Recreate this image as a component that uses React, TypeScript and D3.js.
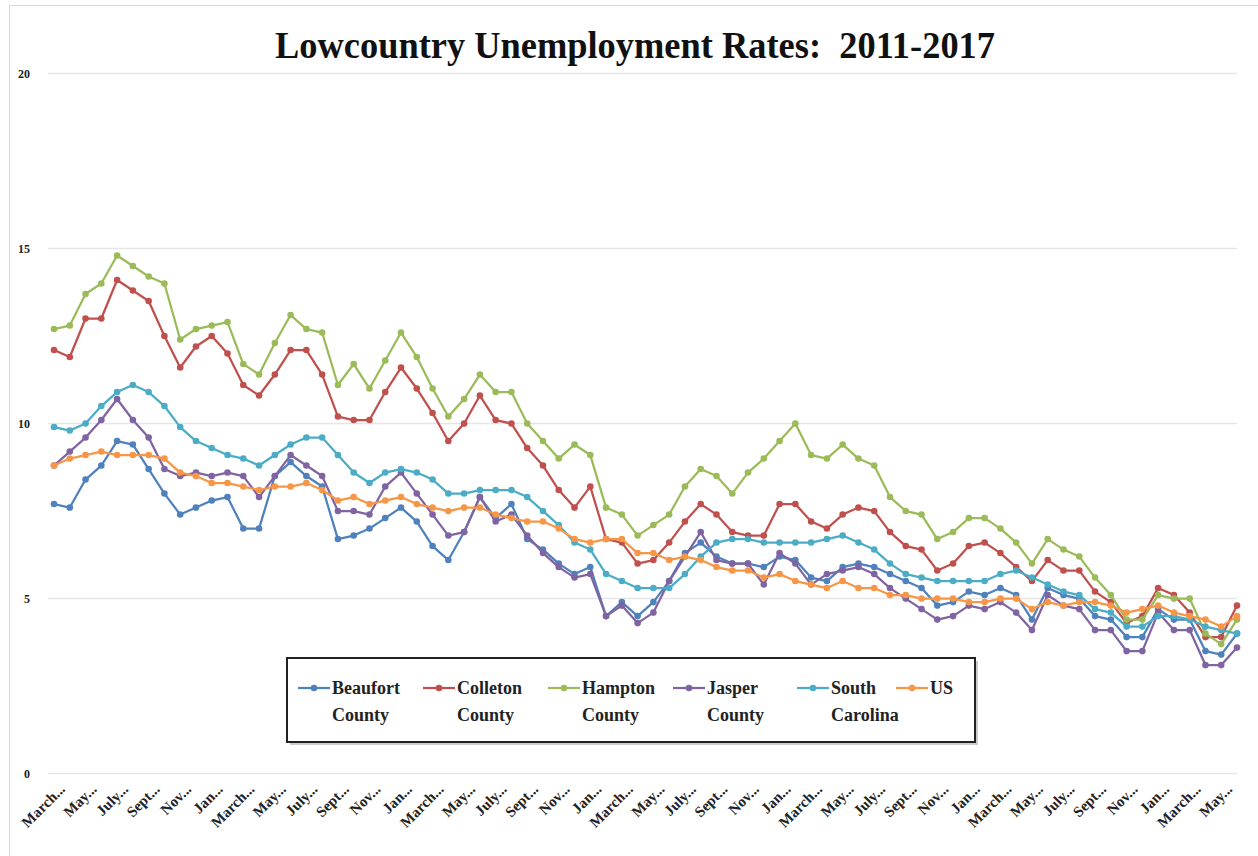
import React from "react";
import * as d3 from "d3";

const categories = [
  "March 2011","April 2011","May 2011","June 2011","July 2011","Aug 2011","Sept 2011","Oct 2011","Nov 2011","Dec 2011",
  "Jan 2012","Feb 2012","March 2012","April 2012","May 2012","June 2012","July 2012","Aug 2012","Sept 2012","Oct 2012","Nov 2012","Dec 2012",
  "Jan 2013","Feb 2013","March 2013","April 2013","May 2013","June 2013","July 2013","Aug 2013","Sept 2013","Oct 2013","Nov 2013","Dec 2013",
  "Jan 2014","Feb 2014","March 2014","April 2014","May 2014","June 2014","July 2014","Aug 2014","Sept 2014","Oct 2014","Nov 2014","Dec 2014",
  "Jan 2015","Feb 2015","March 2015","April 2015","May 2015","June 2015","July 2015","Aug 2015","Sept 2015","Oct 2015","Nov 2015","Dec 2015",
  "Jan 2016","Feb 2016","March 2016","April 2016","May 2016","June 2016","July 2016","Aug 2016","Sept 2016","Oct 2016","Nov 2016","Dec 2016",
  "Jan 2017","Feb 2017","March 2017","April 2017","May 2017","June 2017",
];

const beaufort = [
  7.7, 7.6, 8.4, 8.8, 9.5, 9.4, 8.7, 8.0, 7.4, 7.6, 7.8, 7.9,
  7.0, 7.0, 8.5, 8.9, 8.5, 8.2, 6.7, 6.8, 7.0, 7.3, 7.6, 7.2,
  6.5, 6.1, 6.9, 7.9, 7.3, 7.7, 6.7, 6.4, 6.0, 5.7, 5.9, 4.5,
  4.9, 4.5, 4.9, 5.5, 6.3, 6.6, 6.2, 6.0, 6.0, 5.9, 6.2, 6.1,
  5.6, 5.5, 5.9, 6.0, 5.9, 5.7, 5.5, 5.3, 4.8, 4.9, 5.2, 5.1,
  5.3, 5.1, 4.4, 5.3, 5.1, 5.0, 4.5, 4.4, 3.9, 3.9, 4.7, 4.4,
  4.4, 3.5, 3.4, 4.0,
];
const colleton = [
  12.1, 11.9, 13.0, 13.0, 14.1, 13.8, 13.5, 12.5, 11.6, 12.2, 12.5, 12.0,
  11.1, 10.8, 11.4, 12.1, 12.1, 11.4, 10.2, 10.1, 10.1, 10.9, 11.6, 11.0,
  10.3, 9.5, 10.0, 10.8, 10.1, 10.0, 9.3, 8.8, 8.1, 7.6, 8.2, 6.7,
  6.6, 6.0, 6.1, 6.6, 7.2, 7.7, 7.4, 6.9, 6.8, 6.8, 7.7, 7.7,
  7.2, 7.0, 7.4, 7.6, 7.5, 6.9, 6.5, 6.4, 5.8, 6.0, 6.5, 6.6,
  6.3, 5.9, 5.5, 6.1, 5.8, 5.8, 5.2, 4.9, 4.3, 4.5, 5.3, 5.1,
  4.6, 3.9, 3.9, 4.8,
];
const hampton = [
  12.7, 12.8, 13.7, 14.0, 14.8, 14.5, 14.2, 14.0, 12.4, 12.7, 12.8, 12.9,
  11.7, 11.4, 12.3, 13.1, 12.7, 12.6, 11.1, 11.7, 11.0, 11.8, 12.6, 11.9,
  11.0, 10.2, 10.7, 11.4, 10.9, 10.9, 10.0, 9.5, 9.0, 9.4, 9.1, 7.6,
  7.4, 6.8, 7.1, 7.4, 8.2, 8.7, 8.5, 8.0, 8.6, 9.0, 9.5, 10.0,
  9.1, 9.0, 9.4, 9.0, 8.8, 7.9, 7.5, 7.4, 6.7, 6.9, 7.3, 7.3,
  7.0, 6.6, 6.0, 6.7, 6.4, 6.2, 5.6, 5.1, 4.4, 4.4, 5.1, 5.0,
  5.0, 4.0, 3.7, 4.4,
];
const jasper = [
  8.8, 9.2, 9.6, 10.1, 10.7, 10.1, 9.6, 8.7, 8.5, 8.6, 8.5, 8.6,
  8.5, 7.9, 8.5, 9.1, 8.8, 8.5, 7.5, 7.5, 7.4, 8.2, 8.6, 8.0,
  7.4, 6.8, 6.9, 7.9, 7.2, 7.4, 6.8, 6.3, 5.9, 5.6, 5.7, 4.5,
  4.8, 4.3, 4.6, 5.5, 6.2, 6.9, 6.1, 6.0, 6.0, 5.4, 6.3, 6.0,
  5.4, 5.7, 5.8, 5.9, 5.7, 5.3, 5.0, 4.7, 4.4, 4.5, 4.8, 4.7,
  4.9, 4.6, 4.1, 5.1, 4.8, 4.7, 4.1, 4.1, 3.5, 3.5, 4.6, 4.1,
  4.1, 3.1, 3.1, 3.6,
];
const southCarolina = [
  9.9, 9.8, 10.0, 10.5, 10.9, 11.1, 10.9, 10.5, 9.9, 9.5, 9.3, 9.1,
  9.0, 8.8, 9.1, 9.4, 9.6, 9.6, 9.1, 8.6, 8.3, 8.6, 8.7, 8.6,
  8.4, 8.0, 8.0, 8.1, 8.1, 8.1, 7.9, 7.5, 7.1, 6.6, 6.4, 5.7,
  5.5, 5.3, 5.3, 5.3, 5.7, 6.2, 6.6, 6.7, 6.7, 6.6, 6.6, 6.6,
  6.6, 6.7, 6.8, 6.6, 6.4, 6.0, 5.7, 5.6, 5.5, 5.5, 5.5, 5.5,
  5.7, 5.8, 5.6, 5.4, 5.2, 5.1, 4.7, 4.6, 4.2, 4.2, 4.5, 4.5,
  4.4, 4.2, 4.1, 4.0,
];
const us = [
  8.8, 9.0, 9.1, 9.2, 9.1, 9.1, 9.1, 9.0, 8.6, 8.5, 8.3, 8.3,
  8.2, 8.1, 8.2, 8.2, 8.3, 8.1, 7.8, 7.9, 7.7, 7.8, 7.9, 7.7,
  7.6, 7.5, 7.6, 7.6, 7.4, 7.3, 7.2, 7.2, 7.0, 6.7, 6.6, 6.7,
  6.7, 6.3, 6.3, 6.1, 6.2, 6.1, 5.9, 5.8, 5.8, 5.6, 5.7, 5.5,
  5.4, 5.3, 5.5, 5.3, 5.3, 5.1, 5.1, 5.0, 5.0, 5.0, 4.9, 4.9,
  5.0, 5.0, 4.7, 4.9, 4.8, 4.9, 4.9, 4.8, 4.6, 4.7, 4.8, 4.6,
  4.5, 4.4, 4.2, 4.5,
];

const seriesNames = [
  ["Beaufort", "County"],
  ["Colleton", "County"],
  ["Hampton", "County"],
  ["Jasper", "County"],
  ["South", "Carolina"],
  ["US"],
];
const seriesData = [beaufort, colleton, hampton, jasper, southCarolina, us];
const seriesColors = ["#4F81BD", "#C0504D", "#9BBB59", "#8064A2", "#4BACC6", "#F79646"];
const yTicks = [0, 5, 10, 15, 20];
const title = "Lowcountry Unemployment Rates:\u00A0 2011-2017";

const W = 1258;
const H = 856;
const serif = "'Liberation Serif', 'DejaVu Serif', serif";

export default function App() {
  const x = d3.scalePoint<string>().domain(categories).range([54, 1237]);
  const y = d3.scaleLinear().domain([0, 20]).range([773.6, 73.5]);
  const line = d3
    .line<number>()
    .x((_, i) => x(categories[i]) as number)
    .y((d) => y(d));

  const legendX = [298, 423, 548, 673, 797, 896];

  return (
    <svg
      width={W}
      height={H}
      style={{ position: "absolute", left: 0, top: 0, background: "#fff" }}
      fontFamily={serif}
    >
      <rect x={0} y={0} width={W} height={H} fill="#fff" />
      <rect x={9.5} y={5.5} width={W} height={H} fill="none" stroke="#d9d9d9" strokeWidth={1} />
      <text
        x={635}
        y={58}
        textAnchor="middle"
        fontSize={38}
        fontWeight="bold"
        textLength={720}
        lengthAdjust="spacingAndGlyphs"
        fill="#111"
      >
        {title}
      </text>

      {yTicks.map((t) => (
        <g key={t}>
          <line x1={48} x2={1237} y1={y(t)} y2={y(t)} stroke="#e6e6e6" strokeWidth={1.5} />
          <text x={30} y={y(t) + 4} textAnchor="end" fontSize={12} fontWeight="bold" fill="#222">
            {t}
          </text>
        </g>
      ))}

      {categories.map((c, i) =>
        i % 2 === 0 ? (
          <text
            key={c}
            transform={`translate(${(x(c) as number) + 12},790) rotate(-45)`}
            textAnchor="end"
            fontSize={15}
            fontWeight="bold"
            fill="#222"
          >
            {c.split(" ")[0] + "..."}
          </text>
        ) : null
      )}

      {seriesData.map((s, si) => (
        <g key={si}>
          <path d={line(s) || ""} fill="none" stroke={seriesColors[si]} strokeWidth={2.25} strokeLinejoin="round" />
          {s.map((v, i) => (
            <circle key={i} cx={x(categories[i]) as number} cy={y(v)} r={3.3} fill={seriesColors[si]} />
          ))}
        </g>
      ))}

      <rect x={290} y={661} width={688} height={84} fill="#999" opacity={0.5} />
      <rect x={287} y={658} width={688} height={84} fill="#fff" stroke="#222" strokeWidth={2} />
      {seriesNames.map((nm, si) => (
        <g key={si}>
          <line x1={legendX[si]} x2={legendX[si] + 32} y1={688} y2={688} stroke={seriesColors[si]} strokeWidth={2.25} />
          <circle cx={legendX[si] + 16} cy={688} r={3.3} fill={seriesColors[si]} />
          {nm.map((t, li) => (
            <text
              key={li}
              x={legendX[si] + 34}
              y={694 + li * 27}
              fontSize={18}
              fontWeight="bold"
              fill="#222"
            >
              {t}
            </text>
          ))}
        </g>
      ))}
    </svg>
  );
}
